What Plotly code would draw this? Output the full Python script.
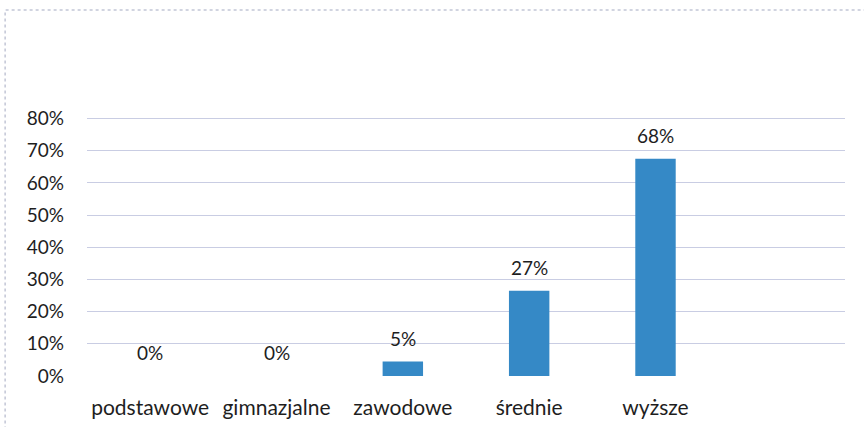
import plotly.graph_objects as go

categories = ["podstawowe", "gimnazjalne", "zawodowe", "średnie", "wyższe"]
values = [0.0, 0.0, 0.045, 0.265, 0.675]
value_labels = ["0%", "0%", "5%", "27%", "68%"]
y_ticks = [0, 0.1, 0.2, 0.3, 0.4, 0.5, 0.6, 0.7, 0.8]
y_tick_labels = ["0%", "10%", "20%", "30%", "40%", "50%", "60%", "70%", "80%"]

FONT = "Lato, Open Sans, sans-serif"
TXT = "#1e1e1e"

fig = go.Figure()
fig.add_trace(go.Bar(
    x=categories, y=values, marker=dict(color="#3589c6", line=dict(width=0)),
    width=0.32, cliponaxis=False, hoverinfo="skip"))

for c, v, t in zip(categories, values, value_labels):
    fig.add_annotation(x=c, y=v, text=t, showarrow=False, yanchor="bottom",
                       yshift=10, font=dict(family=FONT, size=19, color=TXT))

fig.update_layout(
    width=864, height=427,
    margin=dict(l=87, r=19, t=113, b=50),
    paper_bgcolor="white", plot_bgcolor="white",
    showlegend=False,
    xaxis=dict(range=[-0.5, 5.5], showgrid=False, zeroline=False, showline=False,
               automargin=False,
               ticks="", tickfont=dict(family=FONT, size=21, color=TXT),
               ticklabelstandoff=16),
    yaxis=dict(range=[-0.003, 0.817], tickvals=y_ticks, ticktext=y_tick_labels,
               automargin=False,
               showgrid=True, gridcolor="#c9cde3", gridwidth=1,
               zeroline=False, showline=False, ticks="",
               tickfont=dict(family=FONT, size=19, color=TXT),
               ticklabelstandoff=22),
    shapes=[dict(type="rect", xref="paper", yref="paper",
                 x0=-0.108, x1=1.1, y0=-0.3, y1=1.39,
                 line=dict(color="#c2c6d6", width=1.5, dash="dot"))],
)
fig.write_html("out.html", config={"displayModeBar": False},
               post_script="document.body.style.margin='0';document.body.style.overflow='hidden';")
